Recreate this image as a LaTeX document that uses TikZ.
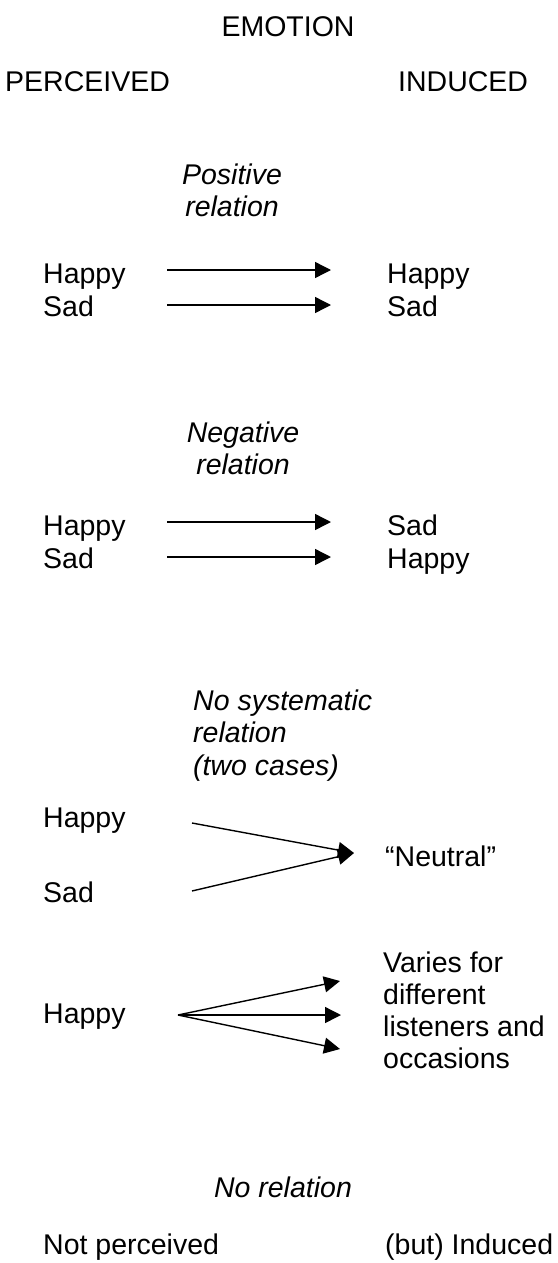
\documentclass[tikz,border=0pt]{standalone}
\usepackage{fontspec}
\setmainfont{Liberation Sans}
\usetikzlibrary{arrows.meta}
\begin{document}
\begin{tikzpicture}[x=1pt,y=-1pt,
  txt/.style={inner sep=0pt, anchor=base west, font=\fontsize{28.5}{32}\selectfont},
  ctxt/.style={inner sep=0pt, anchor=base, font=\fontsize{28.5}{32}\selectfont},
  itxt/.style={inner sep=0pt, anchor=base, font=\fontsize{28.5}{32}\selectfont\itshape},
  iltxt/.style={inner sep=0pt, anchor=base west, font=\fontsize{28.5}{32}\selectfont\itshape},
  arr/.style={line width=1.4pt, -{Triangle[length=16pt,width=16pt]}}]
\useasboundingbox (0,0) rectangle (557,1263);
% headings
\node[ctxt] (emo) at (288,37) {EMOTION};
\node[txt] (perc) at (5,91) {PERCEIVED};
\node[txt] (ind) at (398,91) {INDUCED};
% positive
\node[itxt] (pos1) at (232,184) {Positive};
\node[itxt] (pos2) at (232,216) {relation};
\node[txt] (ph) at (43,283) {Happy};
\node[txt] (ps) at (43,316) {Sad};
\node[txt] (ph2) at (387,283) {Happy};
\node[txt] (ps2) at (387,316) {Sad};
\coordinate (p1a) at (167,270); \coordinate (p1b) at (331,270);
\coordinate (p2a) at (167,305); \coordinate (p2b) at (331,305);
\draw[arr] (p1a) -- (p1b);
\draw[arr] (p2a) -- (p2b);
% negative
\node[itxt] (neg1) at (243,442) {Negative};
\node[itxt] (neg2) at (243,474) {relation};
\node[txt] (nh) at (43,535) {Happy};
\node[txt] (ns) at (43,568) {Sad};
\node[txt] (ns2) at (387,535) {Sad};
\node[txt] (nh2) at (387,568) {Happy};
\coordinate (n1a) at (167,522); \coordinate (n1b) at (331,522);
\coordinate (n2a) at (167,557); \coordinate (n2b) at (331,557);
\draw[arr] (n1a) -- (n1b);
\draw[arr] (n2a) -- (n2b);
% no systematic
\node[iltxt] (ns1) at (193,710) {No systematic};
\node[iltxt] (ns2l) at (193,742) {relation};
\node[iltxt] (ns3) at (193,775) {(two cases)};
\node[txt] (sh) at (43,827) {Happy};
\node[txt] (ss) at (43,902) {Sad};
\node[txt] (neu) at (385,866) {“Neutral”};
\coordinate (s1a) at (192,823); \coordinate (s2a) at (192,891);
\coordinate (stip) at (354,853);
\draw[arr] (s1a) -- (stip);
\draw[arr] (s2a) -- (stip);
% varies
\node[txt] (vh) at (43,1023) {Happy};
\coordinate (vo) at (178,1015);
\coordinate (v1) at (340,981); \coordinate (v2) at (341,1015); \coordinate (v3) at (340,1049);
\draw[arr] (vo) -- (v1);
\draw[arr] (vo) -- (v2);
\draw[arr] (vo) -- (v3);
\node[txt] (va1) at (383,972) {Varies for};
\node[txt] (va2) at (383,1004) {different};
\node[txt] (va3) at (383,1036) {listeners and};
\node[txt] (va4) at (383,1068) {occasions};
% no relation
\node[itxt] (nr) at (283,1197) {No relation};
\node[txt] (np) at (43,1254) {Not perceived};
\node[txt] (bi) at (385,1254) {(but) Induced};
\end{tikzpicture}
\end{document}
